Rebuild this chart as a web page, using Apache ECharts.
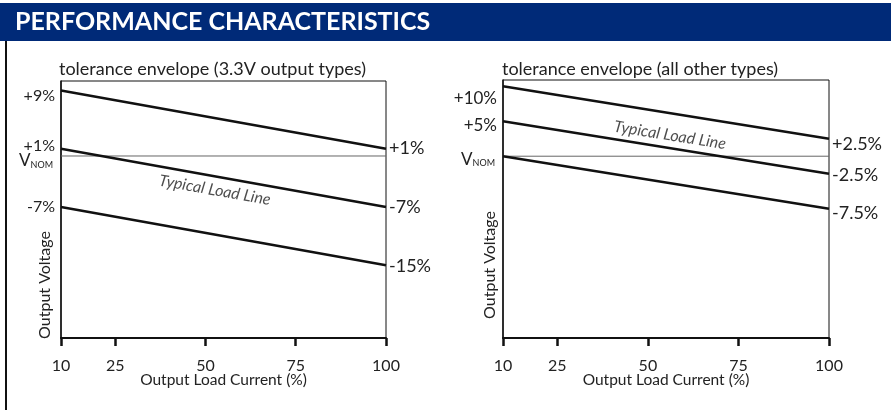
<!DOCTYPE html>
<html>
<head>
<meta charset="utf-8">
<script src="https://cdn.jsdelivr.net/npm/echarts@6/dist/echarts.min.js"></script>
<style>
  html, body { margin: 0; padding: 0; background: #fff; }
  #main { width: 891px; height: 410px; }
</style>
</head>
<body>
<div id="main"></div>
<script>
// x axis (output load current, %)
var xTicks = [10, 25, 50, 75, 100];
var xEnds = [10, 100];

// left chart: 3.3V output types (% of Vnom at 10% and 100% load)
var leftUpper = [9, 1];
var leftTypical = [1, -7];
var leftLower = [-7, -15];

// right chart: all other types
var rightUpper = [10, 2.5];
var rightTypical = [5, -2.5];
var rightLower = [0, -7.5];

var vnom = [0, 0];

var FONT = 'Lato';
var INK = '#111';

function pct(v) {
  return (v > 0 ? '+' : '') + v + '%';
}

// one envelope line, labelled at both ends (no label where it starts on Vnom)
function envLine(idx, vals, offL, offR, sizeL, sizeR) {
  return {
    type: 'line',
    xAxisIndex: idx,
    yAxisIndex: idx,
    symbol: 'circle',
    symbolSize: 0,
    silent: true,
    lineStyle: { color: INK, width: 2.5 },
    data: [
      {
        value: [xEnds[0], vals[0]],
        label: {
          show: vals[0] !== 0, position: 'left', distance: 6, offset: offL,
          formatter: pct(vals[0]), fontSize: sizeL, color: '#222', fontFamily: FONT
        }
      },
      {
        value: [xEnds[1], vals[1]],
        label: {
          show: true, position: 'right', distance: 3, offset: offR,
          formatter: pct(vals[1]), fontSize: sizeR, color: '#222', fontFamily: FONT
        }
      }
    ]
  };
}

function vnomLine(idx, off) {
  return {
    type: 'line',
    xAxisIndex: idx,
    yAxisIndex: idx,
    symbol: 'circle',
    symbolSize: 0,
    silent: true,
    z: 1,
    lineStyle: { color: '#666', width: 1 },
    data: [
      {
        value: [xEnds[0], vnom[0]],
        label: {
          show: true, position: 'left', distance: 8, offset: off,
          formatter: '{v|V}{s|NOM}',
          rich: {
            v: { fontSize: 17, fontFamily: FONT, color: '#222' },
            s: { fontSize: 9, fontFamily: FONT, color: '#222', verticalAlign: 'bottom', padding: [6, 0, 0, 0] }
          }
        }
      },
      { value: [xEnds[1], vnom[1]] }
    ]
  };
}

function loadLineText(idx, pos, rot) {
  return {
    type: 'scatter',
    xAxisIndex: idx,
    yAxisIndex: idx,
    symbolSize: 0,
    silent: true,
    data: [pos],
    label: {
      show: true, position: 'inside', formatter: 'Typical Load Line',
      rotate: rot, fontSize: 16, fontStyle: 'italic', fontFamily: FONT, color: '#222'
    }
  };
}

function xAxisOf(idx) {
  return {
    type: 'value',
    gridIndex: idx,
    min: xEnds[0],
    max: xEnds[1],
    name: 'Output Load Current (%)',
    nameLocation: 'middle',
    nameGap: 34,
    nameMoveOverlap: false,
    nameTextStyle: { fontSize: 15.5, fontFamily: FONT, color: '#222' },
    axisLine: { show: true, onZero: false, lineStyle: { color: INK, width: 2 } },
    axisTick: { show: true, inside: false, length: 8, lineStyle: { color: INK, width: 2.5 }, customValues: xTicks },
    axisLabel: { margin: 20, fontSize: 16, fontFamily: FONT, color: '#222', customValues: xTicks },
    splitLine: { show: false }
  };
}

function yAxisOf(idx, min, max) {
  return {
    type: 'value',
    gridIndex: idx,
    min: min,
    max: max,
    axisLine: { show: true, onZero: false, lineStyle: { color: INK, width: 1.5 } },
    axisTick: { show: false },
    axisLabel: { show: false },
    splitLine: { show: false }
  };
}

var yLeft = [-25, 10.3];
var yRight = [-26, 10.9];

var chart = echarts.init(document.getElementById('main'));

chart.setOption({
  animation: false,
  backgroundColor: '#fff',
  title: [
    {
      text: 'tolerance envelope (3.3V output types)',
      left: 54, top: 55,
      textStyle: { fontSize: 18, fontWeight: 'normal', fontFamily: FONT, color: '#222' }
    },
    {
      text: 'tolerance envelope (all other types)',
      left: 497, top: 55,
      textStyle: { fontSize: 18, fontWeight: 'normal', fontFamily: FONT, color: '#222' }
    }
  ],
  grid: [
    { left: 61, top: 81, width: 325, height: 257, show: true, borderColor: INK, borderWidth: 1 },
    { left: 503, top: 80, width: 326, height: 258, show: true, borderColor: INK, borderWidth: 1 }
  ],
  xAxis: [xAxisOf(0), xAxisOf(1)],
  yAxis: [yAxisOf(0, yLeft[0], yLeft[1]), yAxisOf(1, yRight[0], yRight[1])],
  series: [
    vnomLine(0, [0, 5]),
    envLine(0, leftUpper, [0, 5], [0, -1], 16, 18),
    envLine(0, leftTypical, [0, -3], [0, 0], 16, 18),
    envLine(0, leftLower, [0, 0], [0, 1], 16, 18),
    loadLineText(0, [52.6, -4.7], -10),

    vnomLine(1, [0, 3]),
    envLine(1, rightUpper, [0, 12], [0, 5], 17, 18),
    envLine(1, rightTypical, [0, 4], [0, 1], 17, 18),
    envLine(1, rightLower, [0, 0], [0, 5], 17, 18),
    loadLineText(1, [56.1, 3.0], -9)
  ],
  graphic: [
    // header band
    { type: 'rect', left: 0, top: 3, shape: { width: 891, height: 38 }, style: { fill: '#002a78' }, silent: true },
    {
      type: 'text', x: 15, y: 22, silent: true,
      style: { text: 'PERFORMANCE CHARACTERISTICS', fill: '#fff', font: 'bold 25px Lato', verticalAlign: 'middle' }
    },
    // left border of the panel
    { type: 'rect', left: 5, top: 41, shape: { width: 2, height: 369 }, style: { fill: INK }, silent: true },
    // y axis titles
    {
      type: 'text', x: 45, y: 285, rotation: Math.PI / 2, silent: true,
      style: { text: 'Output Voltage', fill: '#222', font: '16px Lato', align: 'center', verticalAlign: 'middle' }
    },
    {
      type: 'text', x: 490, y: 265, rotation: Math.PI / 2, silent: true,
      style: { text: 'Output Voltage', fill: '#222', font: '16px Lato', align: 'center', verticalAlign: 'middle' }
    }
  ]
});
</script>
</body>
</html>
